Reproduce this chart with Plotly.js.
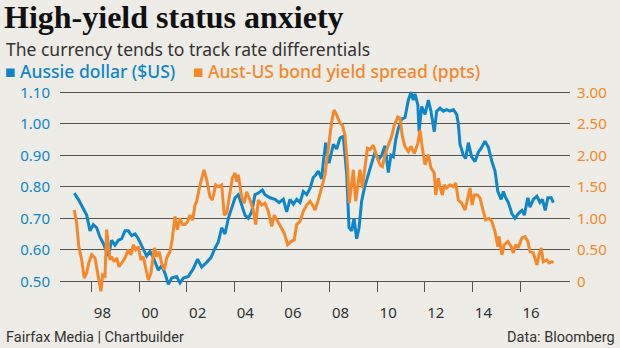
<!DOCTYPE html>
<html>
<head>
<meta charset="utf-8">
<script src="https://cdn.plot.ly/plotly-3.0.1.min.js"></script>
<style>
html,body{margin:0;padding:0;background:#edece7;}
#chart{width:620px;height:348px;}
</style>
</head>
<body>
<div id="chart"></div>
<script>
// Aussie dollar (US$) — decimal year / value
var audYears = [1997.28,1997.45,1997.66,1997.80,1997.94,1998.08,1998.22,1998.36,1998.50,1998.60,1998.71,1998.85,1998.99,1999.13,1999.27,1999.41,1999.55,1999.69,1999.83,1999.97,2000.13,2000.32,2000.46,2000.60,2000.81,2000.95,2001.09,2001.23,2001.37,2001.58,2001.72,2001.86,2002.07,2002.28,2002.46,2002.63,2002.84,2003.02,2003.19,2003.33,2003.47,2003.61,2003.75,2003.89,2004.03,2004.17,2004.31,2004.45,2004.59,2004.73,2004.87,2005.01,2005.18,2005.29,2005.50,2005.71,2005.88,2006.06,2006.20,2006.34,2006.48,2006.62,2006.76,2006.90,2007.04,2007.18,2007.32,2007.39,2007.53,2007.67,2007.74,2007.84,2007.98,2008.16,2008.30,2008.44,2008.58,2008.72,2008.82,2008.93,2009.03,2009.14,2009.24,2009.35,2009.46,2009.63,2009.77,2009.91,2010.05,2010.19,2010.33,2010.47,2010.58,2010.68,2010.78,2010.89,2011.03,2011.17,2011.31,2011.42,2011.52,2011.59,2011.71,2011.76,2011.87,2012.01,2012.15,2012.26,2012.40,2012.50,2012.64,2012.78,2012.92,2013.06,2013.20,2013.34,2013.41,2013.48,2013.62,2013.72,2013.83,2013.97,2014.11,2014.25,2014.39,2014.53,2014.67,2014.82,2014.95,2015.07,2015.21,2015.30,2015.40,2015.51,2015.66,2015.79,2015.93,2016.08,2016.18,2016.33,2016.42,2016.56,2016.71,2016.84,2016.94,2017.06,2017.17,2017.31,2017.40];
var audValues = [0.78,0.76,0.73,0.71,0.66,0.68,0.67,0.64,0.62,0.60,0.58,0.63,0.615,0.63,0.635,0.66,0.66,0.645,0.65,0.635,0.61,0.58,0.595,0.575,0.535,0.55,0.525,0.49,0.51,0.515,0.495,0.51,0.515,0.54,0.57,0.545,0.56,0.575,0.605,0.625,0.67,0.65,0.70,0.73,0.765,0.775,0.745,0.71,0.70,0.72,0.775,0.78,0.79,0.775,0.765,0.76,0.75,0.76,0.72,0.76,0.745,0.76,0.75,0.785,0.775,0.795,0.83,0.835,0.85,0.825,0.88,0.94,0.875,0.935,0.92,0.955,0.96,0.84,0.67,0.66,0.70,0.635,0.67,0.755,0.795,0.835,0.875,0.91,0.885,0.90,0.93,0.845,0.90,0.895,0.95,0.985,1.015,1.02,1.075,1.10,1.075,1.095,1.06,0.975,1.055,1.03,1.075,1.04,0.975,1.04,1.05,1.04,1.045,1.04,1.045,1.03,1.00,0.935,0.90,0.89,0.94,0.895,0.88,0.91,0.925,0.945,0.925,0.88,0.85,0.785,0.76,0.785,0.765,0.75,0.715,0.70,0.715,0.725,0.71,0.765,0.735,0.76,0.77,0.75,0.76,0.725,0.765,0.765,0.75];

// Aust-US bond yield spread (ppts)
var spreadYears = [1997.28,1997.38,1997.47,1997.59,1997.70,1997.80,1997.89,1998.01,1998.15,1998.26,1998.33,1998.40,1998.47,1998.57,1998.64,1998.71,1998.78,1998.85,1998.96,1999.06,1999.16,1999.27,1999.41,1999.55,1999.66,1999.76,1999.86,1999.97,2000.08,2000.18,2000.28,2000.39,2000.50,2000.64,2000.74,2000.84,2000.95,2001.06,2001.16,2001.30,2001.39,2001.51,2001.61,2001.72,2001.82,2001.93,2002.04,2002.14,2002.25,2002.35,2002.42,2002.56,2002.73,2002.84,2002.98,2003.08,2003.22,2003.33,2003.47,2003.58,2003.68,2003.82,2003.92,2004.03,2004.10,2004.17,2004.31,2004.42,2004.52,2004.66,2004.80,2004.90,2005.01,2005.15,2005.29,2005.43,2005.57,2005.68,2005.82,2005.96,2006.10,2006.24,2006.38,2006.52,2006.62,2006.76,2006.90,2007.04,2007.18,2007.32,2007.39,2007.53,2007.67,2007.81,2007.95,2008.09,2008.19,2008.30,2008.44,2008.54,2008.65,2008.76,2008.83,2008.93,2009.00,2009.10,2009.21,2009.28,2009.38,2009.49,2009.59,2009.70,2009.84,2009.98,2010.12,2010.22,2010.33,2010.47,2010.61,2010.72,2010.87,2010.96,2011.06,2011.17,2011.31,2011.42,2011.56,2011.71,2011.80,2011.90,2012.01,2012.15,2012.26,2012.40,2012.46,2012.57,2012.64,2012.74,2012.82,2012.92,2013.06,2013.20,2013.30,2013.41,2013.55,2013.69,2013.80,2013.90,2013.99,2014.08,2014.22,2014.32,2014.46,2014.56,2014.70,2014.82,2014.95,2015.07,2015.12,2015.24,2015.34,2015.49,2015.63,2015.72,2015.82,2015.93,2016.08,2016.21,2016.33,2016.42,2016.56,2016.71,2016.80,2016.89,2016.98,2017.13,2017.22,2017.34,2017.40];
var spreadValues = [1.13,0.92,0.55,0.34,0.05,0.13,0.29,0.42,0.37,0.13,0.0,-0.16,0.10,0.08,0.82,0.61,0.34,0.39,0.31,0.37,0.23,0.29,0.37,0.50,0.42,0.58,0.50,0.55,0.34,0.39,0.21,0.02,0.13,0.53,0.39,0.47,0.29,0.18,0.37,0.47,0.66,1.03,0.82,1.00,0.90,0.90,0.95,1.05,0.97,1.21,1.27,1.53,1.77,1.61,1.34,1.29,1.53,1.50,1.53,1.05,1.08,1.42,1.64,1.72,1.58,1.69,1.34,1.24,1.42,1.29,1.13,0.90,1.29,1.21,1.24,1.11,0.87,1.05,0.95,0.84,0.76,0.58,0.63,0.66,0.90,0.95,1.11,1.21,1.27,1.19,1.13,1.29,1.48,1.69,2.11,2.53,2.72,2.64,2.51,2.48,2.32,1.80,1.24,1.53,1.77,1.27,1.53,1.77,1.48,1.80,2.11,2.09,2.16,1.98,1.85,1.82,2.01,2.16,2.30,2.48,2.61,2.59,2.30,2.14,2.06,2.14,2.03,2.19,2.40,2.11,1.85,2.01,1.80,1.72,1.37,1.64,1.50,1.37,1.53,1.48,1.53,1.50,1.56,1.29,1.24,1.13,1.29,1.48,1.21,1.37,1.37,1.32,1.11,0.975,1.00,0.95,0.79,0.55,0.71,0.42,0.58,0.63,0.55,0.45,0.58,0.53,0.69,0.71,0.63,0.47,0.45,0.26,0.42,0.53,0.31,0.34,0.29,0.31,0.29];

var xTickVals = [1998,2000,2002,2004,2006,2008,2010,2012,2014,2016];
var xTickText = ['98','00','02','04','06','08','10','12','14','16'];
var leftTickVals = [0.5,0.6,0.7,0.8,0.9,1.0,1.1];
var leftTickText = ['0.50','0.60','0.70','0.80','0.90','1.00','1.10'];
var rightTickVals = [0,0.5,1,1.5,2,2.5,3];
var rightTickText = ['0','0.50','1.00','1.50','2.00','2.50','3.00'];

var BLUE = '#0f86c8';
var ORANGE = '#f4882a';
var SANS = 'Noto Sans, Open Sans, sans-serif';

var leftRange = [0.45, 1.12];
var rightRange = [(leftRange[0]-0.5)*5, (leftRange[1]-0.5)*5];

var traces = [
  {x: audYears, y: audValues, type: 'scatter', mode: 'lines', name: 'Aussie dollar ($US)',
   line: {color: BLUE, width: 3}, yaxis: 'y', hoverinfo: 'skip'},
  {x: spreadYears, y: spreadValues, type: 'scatter', mode: 'lines', name: 'Aust-US bond yield spread (ppts)',
   line: {color: ORANGE, width: 3}, yaxis: 'y2', hoverinfo: 'skip'}
];

var PH = 348 - 86 - 51;
var layout = {
  width: 620, height: 348,
  paper_bgcolor: '#edece7', plot_bgcolor: '#edece7',
  margin: {l: 60, r: 50, t: 86, b: 51, pad: 0},
  showlegend: false,
  title: {text: 'High-yield status anxiety', x: 4/620, xanchor: 'left', xref: 'container',
          y: 1 - 6/348, yanchor: 'top', yref: 'container',
          font: {family: 'Liberation Serif, serif', size: 32, color: '#111', weight: 'bold'}},
  xaxis: {range: [1996.68, 2018.1], tickvals: xTickVals, ticktext: xTickText,
          ticks: 'outside', ticklen: 10, tickwidth: 1, tickcolor: '#555',
          ticklabelshift: 11, ticklabelstandoff: 8,
          showgrid: false, zeroline: false, showline: false,
          anchor: 'free', position: (0.5 - leftRange[0])/(leftRange[1]-leftRange[0]),
          tickfont: {family: SANS, size: 15, color: '#333'}},
  yaxis: {range: leftRange, tickvals: leftTickVals, ticktext: leftTickText,
          showgrid: true, gridcolor: '#555', gridwidth: 1, zeroline: false, showline: false,
          ticks: '', ticklabelstandoff: 9,
          tickfont: {family: SANS, size: 15, color: BLUE}},
  yaxis2: {range: rightRange, tickvals: rightTickVals, ticktext: rightTickText,
           overlaying: 'y', side: 'right', showgrid: false, zeroline: false, showline: false,
           ticks: '', ticklabelstandoff: 6,
           tickfont: {family: SANS, size: 15, color: ORANGE}},
  annotations: [
    {text: 'The currency tends to track rate differentials', xref: 'paper', yref: 'paper',
     x: -56/510, y: 1 + (86-48.5)/PH, xanchor: 'left', yanchor: 'middle', showarrow: false,
     font: {family: SANS, size: 17.5, color: '#333'}},
    {text: '■ Aussie dollar ($US)', xref: 'paper', yref: 'paper',
     x: -57/510, y: 1 + (86-71)/PH, xanchor: 'left', yanchor: 'middle', showarrow: false,
     font: {family: SANS, size: 17.5, color: BLUE, weight: 500}},
    {text: '■ Aust-US bond yield spread (ppts)', xref: 'paper', yref: 'paper',
     x: (191-60)/510, y: 1 + (86-71)/PH, xanchor: 'left', yanchor: 'middle', showarrow: false,
     font: {family: SANS, size: 17.5, color: ORANGE, weight: 500}},
    {text: 'Fairfax Media | Chartbuilder', xref: 'paper', yref: 'paper',
     x: -56/510, y: -(337-297)/PH, xanchor: 'left', yanchor: 'middle', showarrow: false,
     font: {family: 'Roboto, Noto Sans, sans-serif', size: 14.5, color: '#333'}},
    {text: 'Data: Bloomberg', xref: 'paper', yref: 'paper',
     x: (617-60)/510, y: -(337-297)/PH, xanchor: 'right', yanchor: 'middle', showarrow: false,
     font: {family: 'Roboto, Noto Sans, sans-serif', size: 14.5, color: '#333'}}
  ]
};

Plotly.newPlot('chart', traces, layout, {staticPlot: true, displayModeBar: false});
</script>
</body>
</html>
